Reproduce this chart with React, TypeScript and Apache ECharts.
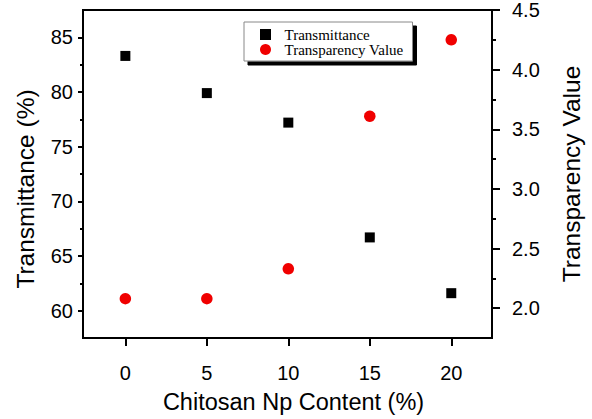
import React, { useEffect, useRef } from "react";
import * as echarts from "echarts";

const xValues = [0, 5, 10, 15, 20];
const transmittance = [83.3, 79.9, 77.2, 66.7, 61.6];
const transparency = [2.08, 2.08, 2.33, 3.61, 4.25];
const xTicks = [0, 5, 10, 15, 20];
const leftMajor = [60, 65, 70, 75, 80, 85];
const leftMinor = [62.5, 67.5, 72.5, 77.5, 82.5];
const rightMajor = [2.0, 2.5, 3.0, 3.5, 4.0, 4.5];
const rightMinor = [2.25, 2.75, 3.25, 3.75, 4.25];

const SANS = "'Liberation Sans', Arial, sans-serif";
const SERIF = "'Liberation Serif', 'Times New Roman', serif";
const SQUARE = "path://M0 0H10V10H0Z";

export default function App() {
  const ref = useRef<HTMLDivElement>(null);
  useEffect(() => {
    if (!ref.current) return;
    const chart = echarts.init(ref.current, undefined, { renderer: "svg" });
    const lineStyle = { color: "#000", width: 2 };
    const option: any = {
      animation: false,
      backgroundColor: "#fff",
      grid: {
        left: 83,
        right: 97,
        top: 10,
        bottom: 78,
        show: true,
        borderColor: "#000",
        borderWidth: 2,
      },
      legend: {
        orient: "vertical",
        left: 244,
        top: 22,
        padding: [5, 9, 4, 16],
        itemGap: 0,
        itemWidth: 28,
        itemHeight: 11,
        backgroundColor: "#fff",
        borderColor: "#888",
        borderWidth: 1,
        borderRadius: 0,
        shadowColor: "#000",
        shadowBlur: 0,
        shadowOffsetX: 4,
        shadowOffsetY: 4,
        textStyle: { fontFamily: SERIF, fontSize: 15, color: "#000", lineHeight: 14 },
        data: ["Transmittance", "Transparency Value"],
      },
      xAxis: {
        type: "value",
        min: -2.6,
        max: 22.5,
        splitLine: { show: false },
        axisLine: { show: true, onZero: false, lineStyle },
        axisTick: { show: true, customValues: xTicks, length: 8, lineStyle },
        axisLabel: {
          customValues: xTicks,
          fontFamily: SANS,
          fontSize: 20,
          color: "#000",
          margin: 25,
        },
        name: "Chitosan Np Content (%)",
        nameLocation: "middle",
        nameGap: 52,
        nameTextStyle: { fontFamily: SANS, fontSize: 23.5, color: "#000", padding: [0, 0, 0, 12] },
      },
      yAxis: [
        {
          type: "value",
          position: "left",
          min: 57.5,
          max: 87.5,
          splitLine: { show: false },
          axisLine: { show: true, onZero: false, lineStyle },
          axisTick: { show: true, customValues: leftMajor, length: 5, lineStyle },
          axisLabel: {
            customValues: leftMajor,
            fontFamily: SANS,
            fontSize: 20,
            color: "#000",
            margin: 10,
          },
          name: "Transmittance (%)",
          nameLocation: "middle",
          nameGap: 45,
          nameTextStyle: { fontFamily: SANS, fontSize: 24.5, color: "#000", padding: [0, 30, 0, 0] },
        },
        {
          type: "value",
          position: "right",
          min: 1.75,
          max: 4.5,
          splitLine: { show: false },
          axisLine: { show: true, onZero: false, lineStyle },
          axisTick: { show: true, customValues: rightMajor, length: 8, lineStyle },
          axisLabel: {
            customValues: rightMajor,
            fontFamily: SANS,
            fontSize: 20,
            color: "#000",
            margin: 20,
            formatter: (v: number) => v.toFixed(1),
          },
          name: "Transparency Value",
          nameLocation: "middle",
          nameGap: 67,
          nameTextStyle: { fontFamily: SANS, fontSize: 24.5, color: "#000" },
        },
        {
          type: "value",
          position: "left",
          min: 57.5,
          max: 87.5,
          splitLine: { show: false },
          axisLine: { show: false, onZero: false },
          axisTick: { show: true, customValues: leftMinor, length: 3, lineStyle },
          axisLabel: { show: false },
        },
        {
          type: "value",
          position: "right",
          min: 1.75,
          max: 4.5,
          splitLine: { show: false },
          axisLine: { show: false, onZero: false },
          axisTick: { show: true, customValues: rightMinor, length: 4, lineStyle },
          axisLabel: { show: false },
        },
      ],
      series: [
        {
          name: "Transmittance",
          type: "scatter",
          yAxisIndex: 0,
          symbol: SQUARE,
          symbolKeepAspect: true,
          symbolSize: 10,
          itemStyle: { color: "#000", opacity: 1 },
          data: xValues.map((x, i) => [x, transmittance[i]]),
        },
        {
          name: "Transparency Value",
          type: "scatter",
          yAxisIndex: 1,
          symbol: "circle",
          symbolSize: 11.5,
          itemStyle: { color: "#f00000", opacity: 1 },
          data: xValues.map((x, i) => [x, transparency[i]]),
        },
      ],
    };
    chart.setOption(option);
    return () => chart.dispose();
  }, []);
  return (
    <div
      ref={ref}
      style={{ position: "fixed", left: 0, top: 0, width: 592, height: 419 }}
    />
  );
}
